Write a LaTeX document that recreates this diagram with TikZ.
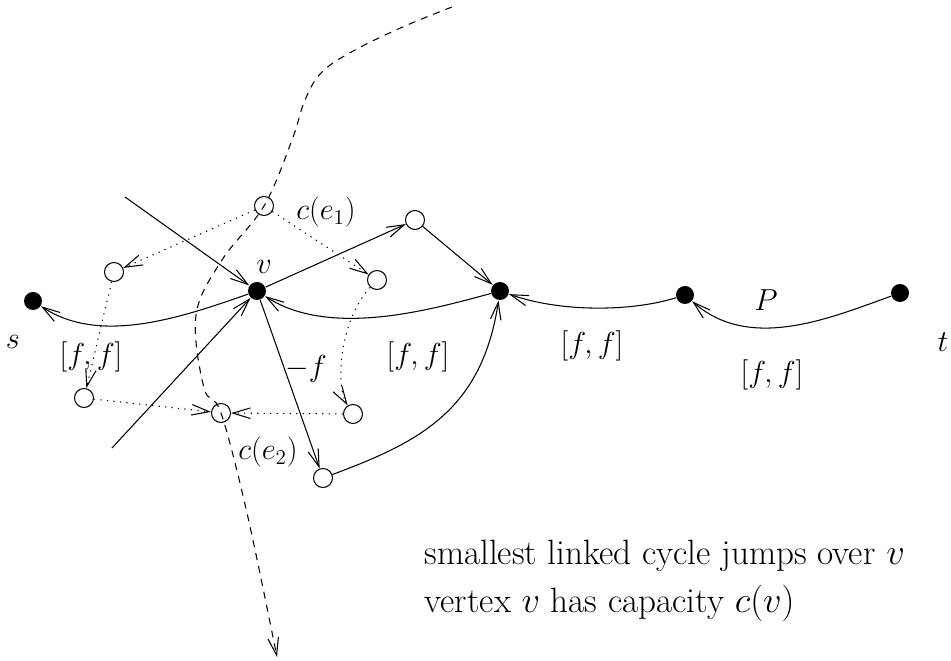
\documentclass[tikz,border=0pt]{standalone}
\usetikzlibrary{arrows.meta}
\begin{document}
\begin{tikzpicture}[x=0.02cm,y=-0.02cm,line width=0.6pt,
  >={Straight Barb[length=10pt,width=6pt]},
  font=\fontsize{17}{20}\selectfont,
  vtx/.style={circle,fill,inner sep=0pt,minimum size=0.36cm},
  hole/.style={circle,draw,inner sep=0pt,minimum size=0.38cm},
  lbl/.style={inner sep=0pt},
  note/.style={anchor=base west,inner sep=0pt,font=\fontsize{20}{24}\selectfont},
  dots/.style={dash pattern=on 0.7pt off 3pt},
  cut/.style={dash pattern=on 4pt off 3.5pt}]
\useasboundingbox (0,0) rectangle (951,661);

% path P from s to t
\node[vtx] (s) at (33,301) {};
\node[vtx] (v) at (257,291) {};
\node[vtx] (w) at (500,291) {};
\node[vtx] (x) at (685,295) {};
\node[vtx] (t) at (900,293) {};

% vertices of the linked cycle
\node[hole] (c1) at (264,206) {};
\node[hole] (ca) at (114,272) {};
\node[hole] (cb) at (84,398) {};
\node[hole] (c2) at (221,413) {};
\node[hole] (cd) at (353,414) {};
\node[hole] (ce) at (377,280) {};
\node[hole] (up) at (415,220) {};
\node[hole] (dn) at (323,478) {};

% free ends of the edges into v
\coordinate (in1) at (125,197);
\coordinate (in2) at (112,448);

\node[lbl] (ls) at (13,342) {$s$};
\node[lbl] (lt) at (943,342) {$t$};
\node[lbl] (lP) at (766,300) {$P$};
\node[lbl] (lv) at (264,267) {$v$};
\node[lbl] (le1) at (326,212) {$c(e_1)$};
\node[lbl] (le2) at (268,452) {$c(e_2)$};
\node[lbl] (lf) at (306,369) {$-f$};
\node[lbl] (lsv) at (91,357) {$[f,f]$};
\node[lbl] (lvw) at (418,357) {$[f,f]$};
\node[lbl] (lwx) at (592,346) {$[f,f]$};
\node[lbl] (lxt) at (772,375) {$[f,f]$};

\node[note] (txt1) at (424,565) {smallest linked cycle jumps over $v$};
\node[note] (txt2) at (424,613) {vertex $v$ has capacity $c(v)$};

% solid edges
\draw[->] (v) .. controls (180,318) and (100,345) .. (s);
\draw[->] (w) .. controls (430,310) and (330,338) .. (v);
\draw[->] (x) .. controls (630,312) and (560,312) .. (w);
\draw[->] (t) .. controls (830,318) and (750,352) .. (x);
\draw[->] (v) -- (up);
\draw[->] (up) -- (w);
\draw[->] (v) -- (dn);
\draw[->] (dn) .. controls (420,442) and (482,410) .. (w);
\draw[->] (in1) -- (v);
\draw[->] (in2) -- (v);

% dotted cycle
\draw[->,dots] (c1) -- (ca);
\draw[->,dots] (ca) .. controls (100,330) and (92,365) .. (cb);
\draw[->,dots] (cb) -- (c2);
\draw[->,dots] (cd) -- (c2);
\draw[->,dots] (c1) -- (ce);
\draw[->,dots] (ce) .. controls (340,320) and (335,385) .. (cd);

% dashed cut
\draw[->,cut] plot[smooth,tension=0.6] coordinates {(452,7) (405,26) (355,50) (322,72) (305,100) (292,140) (264,206) (222,260) (196,315) (204,388) (221,413) (247,513) (277,657)};
\end{tikzpicture}
\end{document}
